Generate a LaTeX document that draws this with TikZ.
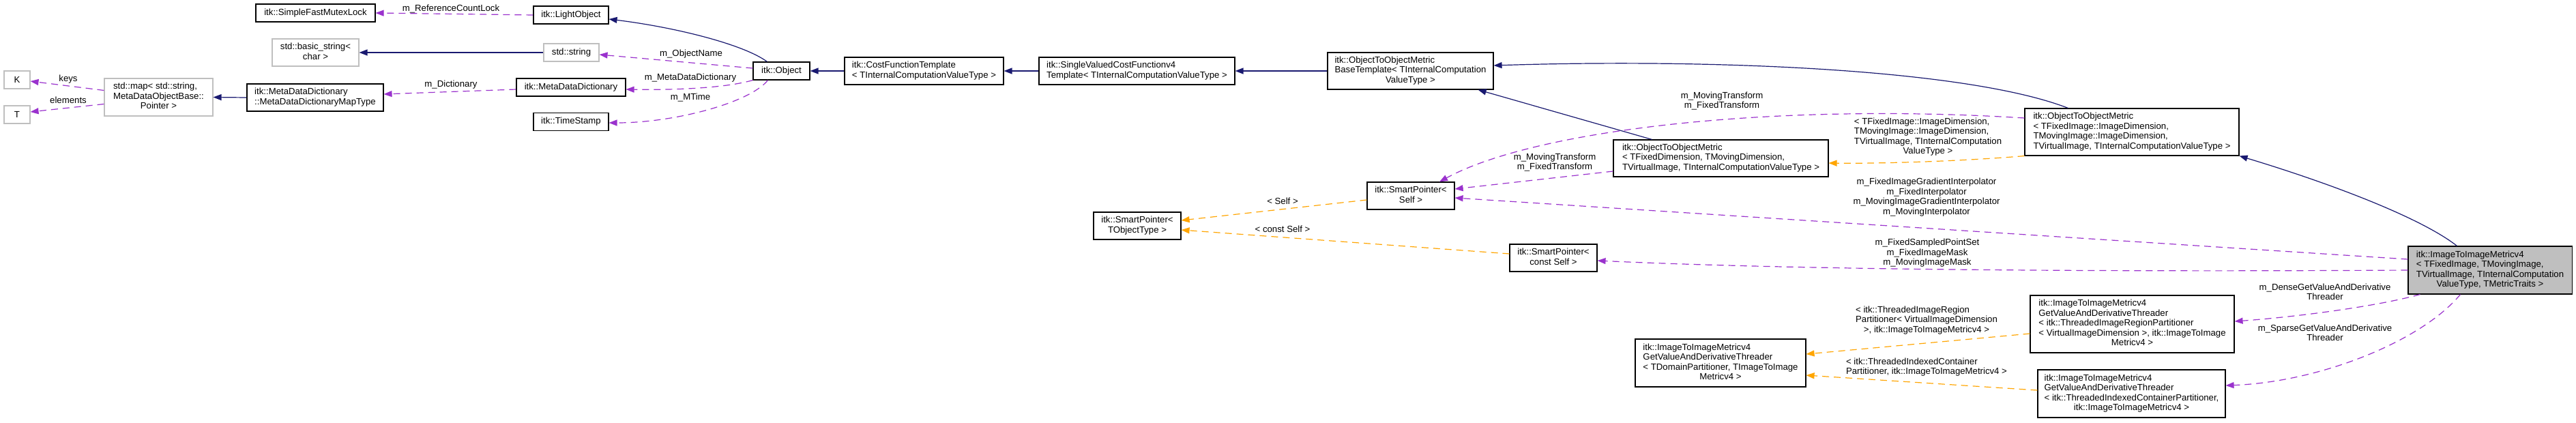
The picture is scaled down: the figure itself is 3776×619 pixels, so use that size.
\documentclass[tikz,border=0pt]{standalone}
\usepackage{fontspec}
\setmainfont{Liberation Sans}
\usetikzlibrary{arrows.meta,calc}
\definecolor{navy}{HTML}{191970}
\definecolor{purp}{HTML}{9A32CD}
\definecolor{orng}{HTML}{FFA500}
\definecolor{grayb}{HTML}{BFBFBF}
\newcommand\fs{\fontsize{13.2}{14.5}\selectfont}
\newcommand\tb[1]{\begin{tabular}{@{}l@{}}#1\end{tabular}}
\newcommand\lc[1]{\multicolumn{1}{@{}c@{}}{#1}}
\begin{document}
\begin{tikzpicture}[x=1pt,y=-1pt,
  cls/.style={draw=black,line width=1.1pt,inner sep=0pt,font=\fs,fill=white},
  ucls/.style={cls,draw=grayb},
  inh/.style={draw=navy,line width=1.2pt,-{Triangle[length=12pt,width=9pt]}},
  use/.style={draw=purp,line width=1.2pt,dash pattern=on 10pt off 7pt,-{Triangle[length=12pt,width=9pt]}},
  tpl/.style={draw=orng,line width=1.2pt,dash pattern=on 10pt off 7pt,-{Triangle[length=12pt,width=9pt]}},
  elab/.style={font=\fs,align=center,inner sep=0pt}]
\useasboundingbox (0,0) rectangle (3776,619);
\fill[white] (0,0) rectangle (3776,619);

% nodes
\node[cls,minimum width=175pt,minimum height=26pt] (smfl) at (462.5,19) {itk::SimpleFastMutexLock};
\node[ucls,minimum width=127pt,minimum height=40pt] (bstr) at (462.5,77) {\tb{std::basic\_string<\\\lc{char >}}};
\node[ucls,minimum width=38pt,minimum height=26pt] (K) at (25,117) {K};
\node[ucls,minimum width=38pt,minimum height=26pt] (T) at (25,168) {T};
\node[ucls,minimum width=159pt,minimum height=55pt] (map) at (232.5,142.5) {\tb{std::map< std::string,\\ MetaDataObjectBase::\\\lc{Pointer >}}};
\node[cls,minimum width=200pt,minimum height=40pt] (mdmt) at (462,143) {\tb{itk::MetaDataDictionary\\\lc{::MetaDataDictionaryMapType}}};
\node[cls,minimum width=110pt,minimum height=26pt] (light) at (837,22) {itk::LightObject};
\node[ucls,minimum width=81pt,minimum height=26pt] (string) at (837.5,77) {std::string};
\node[cls,minimum width=160pt,minimum height=26pt] (mdd) at (837,128) {itk::MetaDataDictionary};
\node[cls,minimum width=110pt,minimum height=26pt] (ts) at (837,178.5) {itk::TimeStamp};
\node[cls,minimum width=83pt,minimum height=26pt] (obj) at (1145.5,104) {itk::Object};
\node[cls,minimum width=233pt,minimum height=40pt] (cft) at (1354.5,104) {\tb{itk::CostFunctionTemplate\\\lc{< TInternalComputationValueType >}}};
\node[cls,minimum width=287pt,minimum height=40pt] (svcf) at (1666.5,104) {\tb{itk::SingleValuedCostFunctionv4\\\lc{Template< TInternalComputationValueType >}}};
\node[cls,minimum width=243pt,minimum height=54pt] (base) at (2067.5,104) {\tb{itk::ObjectToObjectMetric\\BaseTemplate< TInternalComputation\\\lc{ValueType >}}};
\node[cls,minimum width=128pt,minimum height=40pt] (spself) at (2068,287) {\tb{itk::SmartPointer<\\\lc{Self >}}};
\node[cls,minimum width=128pt,minimum height=40pt] (spobj) at (1667,331) {\tb{itk::SmartPointer<\\\lc{TObjectType >}}};
\node[cls,minimum width=128pt,minimum height=40pt] (spconst) at (2277,378) {\tb{itk::SmartPointer<\\\lc{const Self >}}};
\node[cls,minimum width=315pt,minimum height=54pt] (otomfix) at (2522.5,232) {\tb{itk::ObjectToObjectMetric\\< TFixedDimension, TMovingDimension,\\\lc{TVirtualImage, TInternalComputationValueType >}}};
\node[cls,minimum width=314pt,minimum height=69pt] (otom) at (3125,193.5) {\tb{itk::ObjectToObjectMetric\\< TFixedImage::ImageDimension,\\ TMovingImage::ImageDimension,\\\lc{TVirtualImage, TInternalComputationValueType >}}};
\node[cls,fill=grayb,minimum width=240pt,minimum height=70pt] (iim) at (3650,396) {\tb{itk::ImageToImageMetricv4\\< TFixedImage, TMovingImage,\\ TVirtualImage, TInternalComputation\\\lc{ValueType, TMetricTraits >}}};
\node[cls,minimum width=250pt,minimum height=70pt] (thr) at (2522,532) {\tb{itk::ImageToImageMetricv4\\GetValueAndDerivativeThreader\\< TDomainPartitioner, TImageToImage\\\lc{Metricv4 >}}};
\node[cls,minimum width=299pt,minimum height=84pt] (dense) at (3125.5,475) {\tb{itk::ImageToImageMetricv4\\GetValueAndDerivativeThreader\\< itk::ThreadedImageRegionPartitioner\\< VirtualImageDimension >, itk::ImageToImage\\\lc{Metricv4 >}}};
\node[cls,minimum width=275pt,minimum height=70pt] (sparse) at (3124.5,577) {\tb{itk::ImageToImageMetricv4\\GetValueAndDerivativeThreader\\< itk::ThreadedIndexedContainerPartitioner,\\\lc{itk::ImageToImageMetricv4 >}}};

% edges
\draw[use] (light.west) -- (smfl.east);
\node[elab] at (661,13) {m\_ReferenceCountLock};
\draw[inh] (string.west) -- (bstr.east);
\draw[use] ($(map.west)+(0,-10)$) -- ($(K.east)+(0,2)$);
\node[elab] at (100,116) {keys};
\draw[use] ($(map.west)+(0,10)$) -- ($(T.east)+(0,-4)$);
\node[elab] at (100,147) {elements};
\draw[inh] (mdmt.west) -- (map.east);
\draw[use] ($(mdd.west)+(0,3)$) -- ($(mdmt.east)+(0,-5)$);
\node[elab] at (661,124) {m\_Dictionary};
\draw[inh] ($(obj.north)+(-21,0)$) .. controls (1090,65) and (990,40) .. ($(light.east)+(0,6)$);
\draw[use] ($(obj.west)+(0,-4)$) -- ($(string.east)+(0,3)$);
\node[elab] at (1013,79) {m\_ObjectName};
\draw[use] (obj.south west) .. controls (1060,130) and (980,132) .. ($(mdd.east)+(0,3)$);
\node[elab] at (1012,114) {m\_MetaDataDictionary};
\draw[use] ($(obj.south)+(-20,0)$) .. controls (1100,150) and (990,180) .. ($(ts.east)+(0,1.5)$);
\node[elab] at (1012,143) {m\_MTime};
\draw[inh] (cft.west) -- (obj.east);
\draw[inh] (svcf.west) -- (cft.east);
\draw[inh] (base.west) -- (svcf.east);
\draw[inh] ($(otom.north west)+(64,0)$) .. controls (2880,100) and (2500,86) .. ($(base.east)+(0,-8)$);
\draw[inh] ($(otomfix.north west)+(57,0)$) -- ($(base.south east)+(-23,0)$);
\draw[use] ($(otom.west)+(0,-20.5)$) .. controls (2600,150) and (2250,190) .. ($(spself.north)+(42,0)$);
\node[elab] at (2524,148) {m\_MovingTransform\\m\_FixedTransform};
\draw[use] ($(otomfix.west)+(0,19)$) -- ($(spself.east)+(0,-10)$);
\node[elab] at (2279,238) {m\_MovingTransform\\m\_FixedTransform};
\draw[use] ($(iim.west)+(0,-16)$) -- ($(spself.east)+(0,3)$);
\node[elab] at (2824,289) {m\_FixedImageGradientInterpolator\\m\_FixedInterpolator\\m\_MovingImageGradientInterpolator\\m\_MovingInterpolator};
\draw[tpl] ($(spself.west)+(0,6)$) -- ($(spobj.east)+(0,-8)$);
\node[elab] at (1880,295) {< Self >};
\draw[tpl] ($(spconst.west)+(0,-6)$) -- ($(spobj.east)+(0,6)$);
\node[elab] at (1880,336) {< const Self >};
\draw[use] (iim.west) .. controls (3000,399) and (2600,394) .. ($(spconst.east)+(0,4)$);
\node[elab] at (2825,371) {m\_FixedSampledPointSet\\m\_FixedImageMask\\m\_MovingImageMask};
\draw[tpl] (otom.south west) .. controls (2880,236) and (2760,240) .. ($(otomfix.east)+(0,7)$);
\node[elab] at (2826,201) {\tb{< TFixedImage::ImageDimension,\\TMovingImage::ImageDimension,\\TVirtualImage, TInternalComputation\\\lc{ValueType >}}};
\draw[inh] ($(iim.north west)+(72,0)$) .. controls (3550,320) and (3420,270) .. (otom.south east);
\draw[tpl] ($(dense.west)+(0,14)$) -- ($(thr.east)+(0,-13)$);
\node[elab] at (2824,470) {\tb{< itk::ThreadedImageRegion\\Partitioner< VirtualImageDimension\\\lc{>, itk::ImageToImageMetricv4 >}}};
\draw[tpl] ($(sparse.west)+(0,-5)$) -- ($(thr.east)+(0,18)$);
\node[elab] at (2824,538.5) {\tb{< itk::ThreadedIndexedContainer\\\lc{Partitioner, itk::ImageToImageMetricv4 >}}};
\draw[use] ($(iim.south west)+(18,0)$) .. controls (3480,450) and (3360,465) .. ($(dense.east)+(0,-4)$);
\node[elab] at (3408,428) {m\_DenseGetValueAndDerivative\\Threader};
\draw[use] ($(iim.south west)+(77,0)$) .. controls (3550,500) and (3400,560) .. ($(sparse.east)+(0,-12)$);
\node[elab] at (3408,488) {m\_SparseGetValueAndDerivative\\Threader};
\end{tikzpicture}
\end{document}
